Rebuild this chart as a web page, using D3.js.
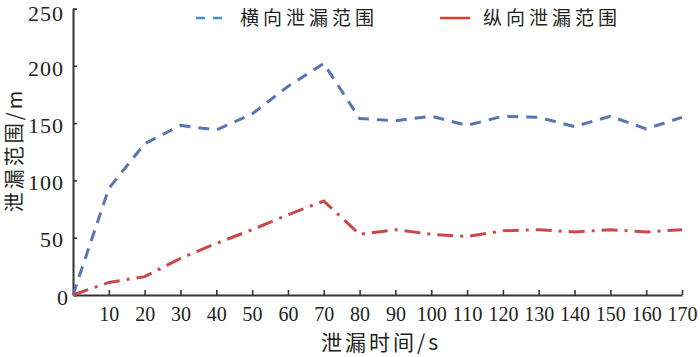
<!DOCTYPE html>
<html><head><meta charset="utf-8">
<script src="https://cdn.jsdelivr.net/npm/d3@7/dist/d3.min.js"></script>
<style>body{margin:0;background:#fff;}svg{display:block;}</style>
</head><body><svg id="c" width="700" height="357"></svg>
<script>
const times = [0,10,20,30,40,50,60,70,80,90,100,110,120,130,140,150,160,170];
const lateral = [0,93,132,148,144,158,182,202,154,152,156,148,156,155,147,156,145,155];
const longitudinal = [0,11,16,32,45,57,70,82,53,57,53,51,56,57,55,57,55,57];
const seriesNames = ["横向泄漏范围","纵向泄漏范围"];
const xTicks = [10,20,30,40,50,60,70,80,90,100,110,120,130,140,150,160,170];
const yTicks = [0,50,100,150,200,250];
const xTitle = "泄漏时间/s";
const yTitle = "泄漏范围/m";

const svg = d3.select("#c");
const x = d3.scaleLinear().domain([0,170]).range([73,682]);
const y = d3.scaleLinear().domain([0,250]).range([295,8.5]);

// axes
const xAxis = svg.append("g").attr("transform","translate(0,295)")
  .call(d3.axisBottom(x).tickValues(xTicks).tickSizeInner(-5).tickSizeOuter(0).tickFormat(d3.format("d")));
const yAxis = svg.append("g").attr("transform","translate(73,0)")
  .call(d3.axisLeft(y).tickValues(yTicks).tickSizeInner(-4).tickSizeOuter(0).tickFormat(d3.format("d")));
[xAxis,yAxis].forEach(g=>{
  g.select(".domain").attr("stroke","#333").attr("stroke-width",2);
  g.selectAll(".tick line").attr("stroke","#333").attr("stroke-width",1.6);
});
xAxis.selectAll(".tick text").attr("font-family","'Liberation Serif', serif").attr("font-size",20)
  .attr("fill","#222").attr("y",12).attr("dy","0.71em")
  .each(function(d){ if(d>=100) d3.select(this).attr("textLength",30).attr("lengthAdjust","spacingAndGlyphs"); });
yAxis.selectAll(".tick text").attr("font-family","'Liberation Serif', serif").attr("font-size",22)
  .attr("fill","#222").attr("x",-9).attr("letter-spacing",1).attr("dy","0.42em")
  .each(function(d){
    if(d===0) d3.select(this).attr("x",-4);
    if(d===250) d3.select(this).attr("dy","0.53em");
  });

// lines
const line = d3.line().x((d,i)=>x(times[i])).y(d=>y(d));
svg.append("path").datum(lateral).attr("d",line).attr("fill","none")
  .attr("stroke","#5a75b3").attr("stroke-width",3).attr("stroke-dasharray","11,8");
svg.append("path").datum(longitudinal).attr("d",line).attr("fill","none")
  .attr("stroke","#c9494a").attr("stroke-width",3).attr("stroke-dasharray","16,7,3,7");

// legend
svg.append("line").attr("x1",196).attr("x2",222).attr("y1",18).attr("y2",18)
  .attr("stroke","#3d8fd1").attr("stroke-width",2.5).attr("stroke-dasharray","9,8");
svg.append("text").attr("x",240).attr("y",18).attr("dy","0.35em").text(seriesNames[0])
  .attr("font-family","'Noto Sans CJK SC', sans-serif").attr("font-size",19).attr("fill","#222").attr("letter-spacing",4);
svg.append("line").attr("x1",440).attr("x2",470).attr("y1",18).attr("y2",18)
  .attr("stroke","#e23b2c").attr("stroke-width",2.5);
svg.append("text").attr("x",483).attr("y",18).attr("dy","0.35em").text(seriesNames[1])
  .attr("font-family","'Noto Sans CJK SC', sans-serif").attr("font-size",19).attr("fill","#222").attr("letter-spacing",4);

// titles
svg.append("text").attr("x",381).attr("y",343).attr("dy","0.35em").attr("text-anchor","middle")
  .text(xTitle).attr("font-family","'Noto Sans CJK SC', sans-serif").attr("font-size",21).attr("fill","#222").attr("letter-spacing",3);
svg.append("text").attr("transform","translate(15,150) rotate(-90)").attr("dy","0.35em").attr("text-anchor","middle")
  .text(yTitle).attr("font-family","'Noto Sans CJK SC', sans-serif").attr("font-size",20).attr("fill","#222").attr("letter-spacing",3);
</script></body></html>
